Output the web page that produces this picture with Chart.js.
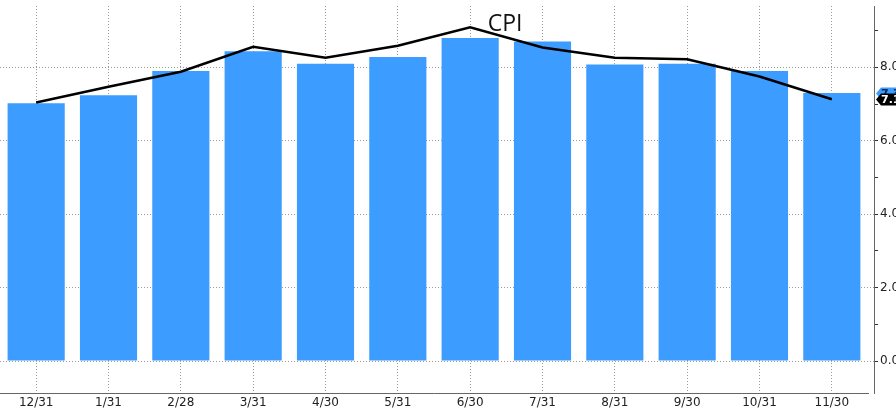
<!DOCTYPE html>
<html>
<head>
<meta charset="utf-8">
<script src="https://cdn.jsdelivr.net/npm/chart.js@4/dist/chart.umd.min.js"></script>
<style>
  html, body { margin: 0; padding: 0; background: #fff; }
  #wrap { width: 896px; height: 409px; }
</style>
</head>
<body>
<div id="wrap"><canvas id="cpi_chart"></canvas></div>
<script>
var labels = ["12/31", "1/31", "2/28", "3/31", "4/30", "5/31", "6/30", "7/31", "8/31", "9/30", "10/31", "11/30"];
var barValues = [7.02, 7.24, 7.90, 8.44, 8.10, 8.28, 8.80, 8.70, 8.08, 8.10, 7.90, 7.30];
var lineValues = [7.04, 7.47, 7.88, 8.56, 8.26, 8.59, 9.09, 8.54, 8.26, 8.22, 7.75, 7.13];
var yTicks = [0, 1, 2, 3, 4, 5, 6, 7, 8, 9];

var blue = "#3d9cff";
var gridColor = "#9a9a9a";

// title drawn inside the plot + value tags on the right axis
var extras = {
  id: "extras",
  afterLayout: function(chart){
    // bands end a little before the right axis line
    var x = chart.scales.x;
    x.right = x.right - 6;
    x.configure();
  },
  afterDraw: function(chart){
    var ctx = chart.ctx;
    var area = chart.chartArea;
    var y = chart.scales.y;

    ctx.save();
    ctx.font = "23px 'Open Sans'";
    ctx.fillStyle = "#111";
    ctx.textAlign = "center";
    ctx.textBaseline = "alphabetic";
    ctx.fillText("CPI", area.left + area.width * 0.578, 31);

    function tag(value, bg, fg){
      var py = Math.round(y.getPixelForValue(value)) + 0.5;
      var x0 = area.right + 2;
      ctx.beginPath();
      ctx.moveTo(x0, py);
      ctx.lineTo(x0 + 5, py - 6);
      ctx.lineTo(x0 + 30, py - 6);
      ctx.lineTo(x0 + 30, py + 6);
      ctx.lineTo(x0 + 5, py + 6);
      ctx.closePath();
      ctx.fillStyle = bg;
      ctx.fill();
      ctx.fillStyle = fg;
      ctx.font = "bold 11px 'DejaVu Sans'";
      ctx.textAlign = "left";
      ctx.textBaseline = "middle";
      ctx.fillText(value.toFixed(1), x0 + 5, py + 1);
    }
    tag(barValues[barValues.length - 1], blue, "#0b2a55");
    tag(lineValues[lineValues.length - 1], "#000", "#fff");
    ctx.restore();
  }
};

new Chart(document.getElementById("cpi_chart").getContext("2d"), {
  type: "bar",
  data: {
    labels: labels,
    datasets: [
      {
        type: "line",
        label: "CPI",
        data: lineValues,
        borderColor: "#000",
        borderWidth: 2.5,
        pointRadius: 0,
        tension: 0,
        order: 0
      },
      {
        label: "CPI bar",
        data: barValues,
        backgroundColor: blue,
        borderWidth: 0,
        categoryPercentage: 1,
        barPercentage: 0.79,
        order: 1
      }
    ]
  },
  options: {
    responsive: true,
    maintainAspectRatio: false,
    animation: false,
    layout: { padding: { top: 6, left: 0, right: 0, bottom: 0 } },
    plugins: {
      legend: { display: false },
      title: { display: false },
      tooltip: { enabled: false }
    },
    scales: {
      x: {
        offset: true,
        grid: { display: true, offset: false, color: gridColor, drawTicks: false },
        border: { display: true, color: "#666", width: 1, dash: [1, 2] },
        ticks: { color: "#222", font: { family: "DejaVu Sans", size: 12 }, padding: 3, maxRotation: 0, autoSkip: false },
        afterFit: function(scale){ scale.height = 16; }
      },
      y: {
        position: "right",
        min: -0.87,
        max: 9.67,
        afterBuildTicks: function(scale){
          scale.ticks = yTicks.map(function(v){ return { value: v }; });
        },
        grid: {
          color: function(c){ return c.tick && c.tick.value % 2 === 0 ? gridColor : "rgba(0,0,0,0)"; },
          tickColor: "#333",
          tickLength: 4
        },
        border: { display: true, color: "#666", width: 1, dash: [1, 2] },
        ticks: {
          color: "#222",
          font: { family: "DejaVu Sans", size: 12 },
          padding: 2,
          callback: function(v){ return v % 2 === 0 ? v.toFixed(1) : ""; }
        },
        afterFit: function(scale){
          scale.width = 22;
          scale.paddingTop = 0;
          scale.paddingBottom = 0;
        }
      }
    }
  },
  plugins: [extras]
});
</script>
</body>
</html>
